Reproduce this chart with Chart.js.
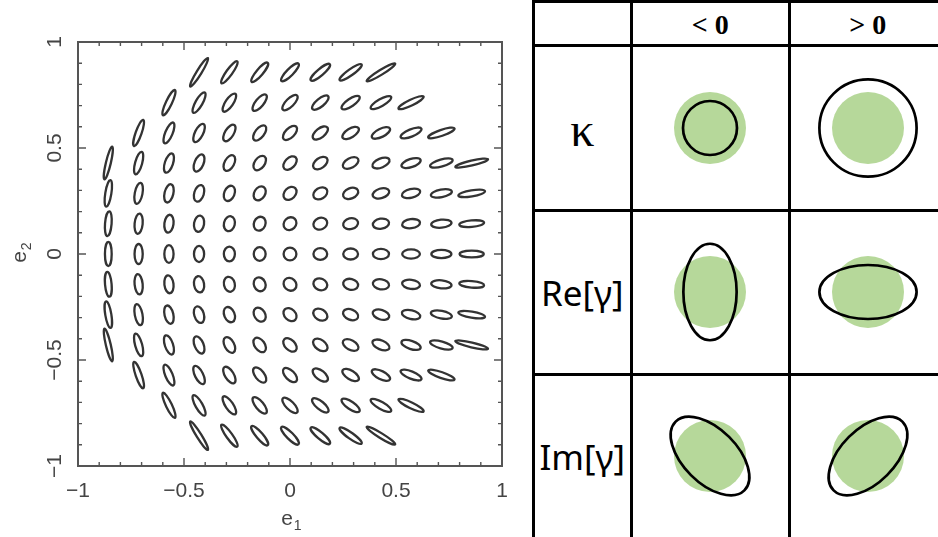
<!DOCTYPE html>
<html>
<head>
<meta charset="utf-8">
<title>Ellipticity plane and lensing distortions</title>
<script src="https://cdn.jsdelivr.net/npm/chart.js@4.4.1/dist/chart.umd.min.js"></script>
<style>
  html, body { margin: 0; padding: 0; background: #fff; }
  body { width: 938px; height: 537px; overflow: hidden; position: relative; }
  #ellipseChart { position: absolute; left: 0; top: 0; }
  #table {
    position: absolute; left: 531.5px; top: 0;
    display: grid;
    grid-template-columns: 95.5px 154.5px 154.5px;
    grid-template-rows: 41px 161.5px 161px 161.5px;
    gap: 3px; padding: 3px; background: #000;
  }
  .cell { background: #fff; display: flex; align-items: center; justify-content: center; }
  .head { font: bold 28px "Liberation Serif", "Times New Roman", serif; padding-top: 2px; }
  .kappa { font: 48px "Liberation Serif", "Times New Roman", serif; padding-top: 4px; }
  .label { font: 35px "Noto Sans", sans-serif; }
</style>
</head>
<body>
<canvas id="ellipseChart" width="525" height="537"></canvas>
<div id="table"></div>
<script>
// lattice of ellipticity values, step 1/7
const gridE = [-0.857, -0.714, -0.571, -0.429, -0.286, -0.143, 0, 0.143, 0.286, 0.429, 0.571, 0.714, 0.857];
// e2 of each row (top to bottom) and the first/last gridE column kept inside |e| < 1
const rowE2 = [0.857, 0.714, 0.571, 0.429, 0.286, 0.143, 0, -0.143, -0.286, -0.429, -0.571, -0.714, -0.857];
const rowFirst = [3, 2, 1, 0, 0, 0, 0, 0, 0, 0, 1, 2, 3];
const rowLast = [9, 10, 11, 12, 12, 12, 12, 12, 12, 12, 11, 10, 9];
const axisTicks = [-1, -0.5, 0, 0.5, 1];

// table: sign headers, row labels and the lensed image of a unit source
const signHeaders = ['< 0', '> 0'];
const rowLabels = ['κ', 'Re[γ]', 'Im[γ]'];
const imageMajor = [[0.75, 1.35], [1.34, 1.35], [1.35, 1.35]];
const imageMinor = [[0.75, 1.35], [0.74, 0.75], [0.75, 0.75]];
const imageTilt = [[0, 0], [90, 0], [-45, 45]];

const points = [];
rowE2.forEach((e2, r) => {
  for (let i = rowFirst[r]; i <= rowLast[r]; i++) points.push({ x: gridE[i], y: e2 });
});

const fmt = v => (v < 0 ? '\u2212' + Math.abs(v) : String(v));
const tickFont = '21px "Liberation Sans", Arial, sans-serif';
const ink = '#444';

// each point is drawn as an ellipse with axis ratio and angle given by (e1, e2)
const ellipseMarks = {
  id: 'ellipseMarks',
  afterDatasetsDraw(chart) {
    const { ctx } = chart;
    const meta = chart.getDatasetMeta(0);
    const R = 6.4;
    ctx.save();
    ctx.strokeStyle = '#333';
    ctx.lineWidth = 2.3;
    meta.data.forEach((el, i) => {
      const d = chart.data.datasets[0].data[i];
      const e = Math.hypot(d.x, d.y);
      const q = Math.sqrt((1 - e) / (1 + e));
      const a = R / Math.sqrt(q), b = R * Math.sqrt(q);
      const ang = 0.5 * Math.atan2(d.y, d.x);
      ctx.beginPath();
      ctx.ellipse(el.x, el.y, a, b, -ang, 0, Math.PI * 2);
      ctx.stroke();
    });
    ctx.restore();
  }
};

// box frame with inward ticks on all four sides, rotated y labels, axis titles
const frameTicks = {
  id: 'frameTicks',
  afterDraw(chart) {
    const { ctx, chartArea: ca } = chart;
    const xs = chart.scales.x, ys = chart.scales.y;
    ctx.save();
    ctx.strokeStyle = '#555';
    ctx.lineWidth = 1.4;
    for (let i = -10; i <= 10; i++) {
      const v = i / 10;
      const len = i % 5 === 0 ? 8 : 4;
      const px = xs.getPixelForValue(v), py = ys.getPixelForValue(v);
      ctx.beginPath();
      ctx.moveTo(px, ca.bottom); ctx.lineTo(px, ca.bottom - len);
      ctx.moveTo(px, ca.top); ctx.lineTo(px, ca.top + len);
      ctx.moveTo(ca.left, py); ctx.lineTo(ca.left + len, py);
      ctx.moveTo(ca.right, py); ctx.lineTo(ca.right - len, py);
      ctx.stroke();
    }
    ctx.lineWidth = 2;
    ctx.strokeRect(ca.left, ca.top, ca.right - ca.left, ca.bottom - ca.top);

    ctx.fillStyle = ink;
    ctx.font = tickFont;
    ctx.textAlign = 'center';
    ctx.textBaseline = 'middle';
    ys.ticks.forEach(t => {
      ctx.save();
      ctx.translate(55, ys.getPixelForValue(t.value));
      ctx.rotate(-Math.PI / 2);
      ctx.fillText(fmt(t.value), 0, 0);
      ctx.restore();
    });

    const title = (x, y, rot, sub) => {
      ctx.save();
      ctx.translate(x, y);
      ctx.rotate(rot);
      ctx.textAlign = 'left';
      ctx.textBaseline = 'alphabetic';
      ctx.font = '21px "Liberation Sans", Arial, sans-serif';
      const w = ctx.measureText('e').width;
      ctx.fillText('e', -w / 2 - 3, 5);
      ctx.font = '14px "Liberation Sans", Arial, sans-serif';
      ctx.fillText(sub, w / 2 - 2, 10);
      ctx.restore();
    };
    title((ca.left + ca.right) / 2, 520, 0, '1');
    title(21, (ca.top + ca.bottom) / 2, -Math.PI / 2, '2');
    ctx.restore();
  }
};

new Chart(document.getElementById('ellipseChart'), {
  type: 'scatter',
  data: { datasets: [{ data: points, pointRadius: 0, pointHoverRadius: 0 }] },
  options: {
    responsive: false,
    animation: false,
    events: [],
    layout: { padding: { top: 42, right: 23, left: 0, bottom: 0 } },
    plugins: { legend: { display: false }, tooltip: { enabled: false } },
    scales: {
      x: {
        type: 'linear', min: -1, max: 1,
        afterBuildTicks: s => { s.ticks = axisTicks.map(v => ({ value: v })); },
        afterFit: s => { s.height = 71; },
        grid: { display: false, drawTicks: false },
        border: { display: false },
        ticks: {
          padding: 13, color: ink, autoSkip: false, maxRotation: 0,
          font: { family: '"Liberation Sans", Arial, sans-serif', size: 21 },
          callback: v => fmt(v)
        }
      },
      y: {
        type: 'linear', min: -1, max: 1,
        afterBuildTicks: s => { s.ticks = axisTicks.map(v => ({ value: v })); },
        afterFit: s => { s.width = 78; },
        grid: { display: false, drawTicks: false },
        border: { display: false },
        ticks: { display: false }
      }
    }
  },
  plugins: [ellipseMarks, frameTicks]
});

// source disc and lensed image, sizes in units of the source radius
const shapePlugin = {
  id: 'shapes',
  afterDatasetsDraw(chart) {
    const { ctx } = chart;
    const xs = chart.scales.x;
    const unit = xs.getPixelForValue(1) - xs.getPixelForValue(0);
    ctx.save();
    chart.data.datasets.forEach((ds, i) => {
      chart.getDatasetMeta(i).data.forEach((el, j) => {
        const d = ds.data[j];
        ctx.beginPath();
        ctx.ellipse(el.x, el.y, d.a * unit, d.b * unit, -d.tilt * Math.PI / 180, 0, Math.PI * 2);
        if (ds.borderWidth > 0) {
          ctx.strokeStyle = ds.borderColor;
          ctx.lineWidth = ds.borderWidth;
          ctx.stroke();
        } else {
          ctx.fillStyle = ds.backgroundColor;
          ctx.fill();
        }
      });
    });
    ctx.restore();
  }
};

const CELL_PX = 150, UNIT_PX = 36;
const half = CELL_PX / 2 / UNIT_PX;

const table = document.getElementById('table');
const addCell = (cls, text) => {
  const div = document.createElement('div');
  div.className = 'cell ' + cls;
  if (text) div.textContent = text;
  table.appendChild(div);
  return div;
};

addCell('', '');
signHeaders.forEach(h => addCell('head', h));

rowLabels.forEach((lab, r) => {
  addCell(r === 0 ? 'kappa' : 'label', lab);
  for (let c = 0; c < 2; c++) {
    const cell = addCell('', '');
    const canvas = document.createElement('canvas');
    canvas.width = CELL_PX;
    canvas.height = CELL_PX;
    cell.appendChild(canvas);
    new Chart(canvas, {
      type: 'scatter',
      data: {
        datasets: [
          { label: 'source', data: [{ x: 0, y: 0, a: 1, b: 1, tilt: 0 }],
            backgroundColor: '#b6d89a', borderWidth: 0, pointRadius: 0 },
          { label: 'image', data: [{ x: 0, y: 0, a: imageMajor[r][c], b: imageMinor[r][c], tilt: imageTilt[r][c] }],
            borderColor: '#000', borderWidth: 2.7, pointRadius: 0 }
        ]
      },
      options: {
        responsive: false,
        animation: false,
        events: [],
        layout: { padding: 0 },
        plugins: { legend: { display: false }, tooltip: { enabled: false } },
        scales: {
          x: { min: -half, max: half, display: false },
          y: { min: -half, max: half, display: false }
        }
      },
      plugins: [shapePlugin]
    });
  }
});
</script>
</body>
</html>
